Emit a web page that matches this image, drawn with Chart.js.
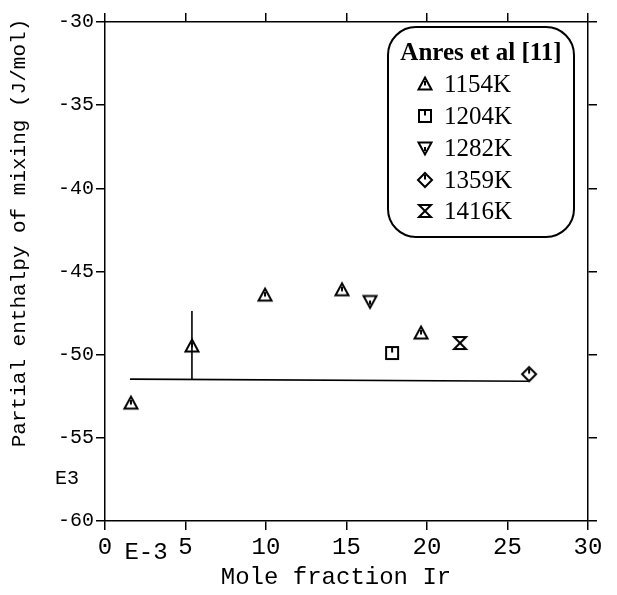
<!DOCTYPE html>
<html>
<head>
<meta charset="utf-8">
<script src="https://cdn.jsdelivr.net/npm/chart.js@4.4.1/dist/chart.umd.min.js"></script>
<style>
  html, body { margin: 0; padding: 0; background: #fff; }
  #wrap { width: 617px; height: 595px; }
</style>
</head>
<body>
<div id="wrap"><canvas id="chart" width="617" height="595"></canvas></div>
<script>
// values (x in units of E-3, y in units of E3 J/mol)
const seriesLabels = ['1154K', '1204K', '1282K', '1359K', '1416K'];
const x1154 = [1.61, 5.40, 9.94, 14.72, 19.63];
const y1154 = [-52.91, -49.48, -46.42, -46.10, -48.70];
const x1204 = [17.83];
const y1204 = [-49.90];
const x1282 = [16.46];
const y1282 = [-46.80];
const x1359 = [26.34];
const y1359 = [-51.17];
const x1416 = [22.05];
const y1416 = [-49.30];
// averaged line and the error bar on the 5.4 point
const fitX = [1.55, 26.3];
const fitY = [-51.47, -51.6];
const errX = [5.40, 5.40];
const errY = [-47.38, -51.5];
const xTickValues = [0, 5, 10, 15, 20, 25, 30];
const yTickValues = [-60, -55, -50, -45, -40, -35, -30];

const pts = (xs, ys) => xs.map((x, i) => ({ x: x, y: ys[i] }));

// marker images (open symbols with the little centre stroke)
function marker(kind) {
  const c = document.createElement('canvas');
  c.width = 18; c.height = 18;
  const g = c.getContext('2d');
  g.strokeStyle = '#000';
  g.lineWidth = 2;
  g.beginPath();
  if (kind === 'up') {
    g.moveTo(9, 2.5); g.lineTo(15.5, 14.5); g.lineTo(2.5, 14.5); g.closePath();
    g.moveTo(9, 6); g.lineTo(9, 10.5);
  } else if (kind === 'down') {
    g.moveTo(2.5, 3.5); g.lineTo(15.5, 3.5); g.lineTo(9, 15.5); g.closePath();
    g.moveTo(9, 8); g.lineTo(9, 12);
  } else if (kind === 'square') {
    g.rect(3, 3, 12, 12);
    g.moveTo(9, 4); g.lineTo(9, 8.5);
  } else if (kind === 'diamond') {
    g.moveTo(9, 2); g.lineTo(16, 9); g.lineTo(9, 16); g.lineTo(2, 9); g.closePath();
    g.moveTo(9, 4); g.lineTo(9, 8.5);
  } else if (kind === 'hour') {
    g.moveTo(3, 3); g.lineTo(15, 3); g.lineTo(3, 15); g.lineTo(15, 15); g.closePath();
  }
  g.stroke();
  return c;
}

const markers = [marker('up'), marker('square'), marker('down'), marker('diamond'), marker('hour')];
const xs = [x1154, x1204, x1282, x1359, x1416];
const ys = [y1154, y1204, y1282, y1359, y1416];

const datasets = seriesLabels.map((lab, i) => ({
  type: 'scatter',
  label: lab,
  data: pts(xs[i], ys[i]),
  pointStyle: markers[i],
  pointRadius: 9,
  pointHoverRadius: 9
}));
datasets.push({
  type: 'line', label: 'fit', data: pts(fitX, fitY),
  borderColor: '#000', borderWidth: 1.6, pointRadius: 0, fill: false
});
datasets.push({
  type: 'line', label: 'err', data: pts(errX, errY),
  borderColor: '#000', borderWidth: 1.6, pointRadius: 0, fill: false
});

const mono = 'Liberation Mono, Courier New, monospace';
const serif = 'Liberation Serif, Times New Roman, serif';

const fixSize = (w, h) => (scale) => {
  if (w !== null) scale.width = w;
  if (h !== null) scale.height = h;
};
const setTicks = (vals) => (scale) => {
  scale.ticks = vals.map(v => ({ value: v }));
};

const gridOpts = {
  drawOnChartArea: false,
  drawTicks: true,
  tickLength: 9,
  color: '#000',
  lineWidth: 1.5
};
const borderOpts = { display: true, color: '#000', width: 1.5 };

const decor = {
  id: 'decor',
  afterDraw(chart) {
    const ctx = chart.ctx;
    ctx.save();
    ctx.fillStyle = '#000';
    // axis titles and exponents
    ctx.font = '21px ' + mono;
    ctx.textAlign = 'center';
    ctx.textBaseline = 'middle';
    ctx.save();
    ctx.translate(19, 233);
    ctx.rotate(-Math.PI / 2);
    ctx.fillText('Partial enthalpy of mixing (J/mol)', 0, 0);
    ctx.restore();
    ctx.font = '20px ' + mono;
    ctx.fillText('E3', 67, 479);
    ctx.font = '24px ' + mono;
    ctx.fillText('E-3', 146, 553);
    ctx.fillText('Mole fraction Ir', 336, 578);

    // legend box
    const bx = 388, by = 27, bw = 186, bh = 210, r = 28;
    ctx.beginPath();
    ctx.roundRect(bx, by, bw, bh, r);
    ctx.fillStyle = '#fff';
    ctx.fill();
    ctx.strokeStyle = '#000';
    ctx.lineWidth = 2;
    ctx.stroke();
    ctx.fillStyle = '#000';
    ctx.font = 'bold 25px ' + serif;
    ctx.textAlign = 'center';
    ctx.fillText('Anres et al [11]', bx + bw / 2, 54);
    ctx.font = '25px ' + serif;
    ctx.textAlign = 'left';
    const rows = [84, 116, 148, 180, 211];
    chart.data.datasets.slice(0, seriesLabels.length).forEach((ds, i) => {
      const m = ds.pointStyle;
      ctx.drawImage(m, 425 - m.width / 2, rows[i] - m.height / 2);
      ctx.fillText(ds.label, 444, rows[i] + 1);
    });
    ctx.restore();
  }
};

new Chart(document.getElementById('chart'), {
  type: 'scatter',
  data: { datasets: datasets },
  options: {
    responsive: false,
    animation: false,
    events: [],
    layout: { padding: 0 },
    plugins: {
      legend: { display: false },
      tooltip: { enabled: false }
    },
    scales: {
      x: {
        type: 'linear', position: 'bottom', min: 0, max: 30,
        afterBuildTicks: setTicks(xTickValues),
        afterFit: fixSize(null, 74),
        grid: gridOpts, border: borderOpts,
        ticks: { color: '#000', padding: 3, maxRotation: 0, font: { family: mono, size: 24 } }
      },
      x2: {
        type: 'linear', position: 'top', min: 0, max: 30,
        afterBuildTicks: setTicks(xTickValues),
        afterFit: fixSize(null, 22),
        grid: gridOpts, border: borderOpts,
        ticks: { display: false }
      },
      y: {
        type: 'linear', position: 'left', min: -60, max: -30,
        afterBuildTicks: setTicks(yTickValues),
        afterFit: fixSize(105, null),
        grid: gridOpts, border: borderOpts,
        ticks: { color: '#000', padding: 2, font: { family: mono, size: 20 } }
      },
      y2: {
        type: 'linear', position: 'right', min: -60, max: -30,
        afterBuildTicks: setTicks(yTickValues),
        afterFit: fixSize(29, null),
        grid: gridOpts, border: borderOpts,
        ticks: { display: false }
      }
    }
  },
  plugins: [decor]
});
</script>
</body>
</html>
